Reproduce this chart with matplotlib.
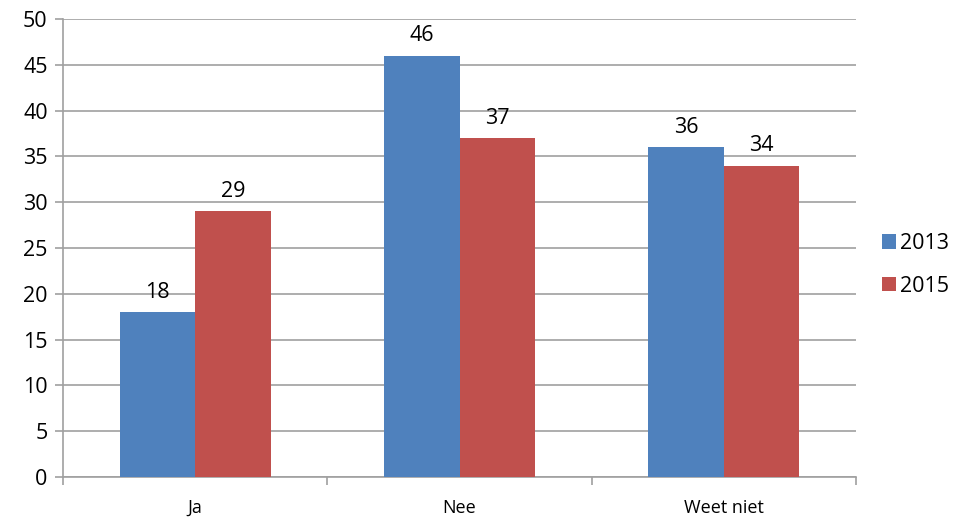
import numpy as np
import matplotlib.pyplot as plt

categories = ["Ja", "Nee", "Weet niet"]
years = ["2013", "2015"]
values_2013 = [18, 46, 36]
values_2015 = [29, 37, 34]
colors = ["#4F81BD", "#C0504D"]

plt.rcParams['font.family'] = ['Open Sans', 'DejaVu Sans']

fig = plt.figure(figsize=(9.61, 5.17), dpi=100)
ax = fig.add_axes([63 / 961, 1 - 477 / 517, (856 - 63) / 961, (477 - 19) / 517])

x = np.arange(len(categories))
w = 0.286
bars1 = ax.bar(x - w / 2, values_2013, w, color=colors[0], label=years[0], zorder=3)
bars2 = ax.bar(x + w / 2, values_2015, w, color=colors[1], label=years[1], zorder=3)

for bars in (bars1, bars2):
    for b in bars:
        ax.text(b.get_x() + b.get_width() / 2, b.get_height() + 1.0, str(int(b.get_height())),
                ha='center', va='bottom', fontsize=15.5, color='black')

ax.set_xlim(-0.5, len(categories) - 0.5)
ax.set_ylim(0, 50)
ax.set_yticks(np.arange(0, 51, 5))
ax.yaxis.grid(True, color='#A0A0A0', lw=1.2, zorder=0)
ax.set_axisbelow(True)

ax.set_xticks(x)
ax.set_xticklabels(categories, fontsize=13)
ax.set_xticks(np.arange(-0.5, len(categories), 1), minor=True)
ax.tick_params(axis='x', which='major', length=0, pad=16)
ax.tick_params(axis='x', which='minor', length=6, color='#A0A0A0', width=1.2)
ax.tick_params(axis='y', length=6, color='#A0A0A0', width=1.2, labelsize=15.5, pad=5)

for s in ['top', 'right']:
    ax.spines[s].set_visible(False)
for s in ['left', 'bottom']:
    ax.spines[s].set_color('#A0A0A0')
    ax.spines[s].set_linewidth(1.2)

fig.legend(handles=[bars1, bars2], labels=years, loc='center left',
           bbox_to_anchor=(882 / 961, 1 - 265 / 517), frameon=False,
           fontsize=15.5, handlelength=0.65, handleheight=0.65, handletextpad=0.2,
           labelspacing=1.0, borderpad=0, borderaxespad=0)

plt.savefig("out.png", dpi=100)
